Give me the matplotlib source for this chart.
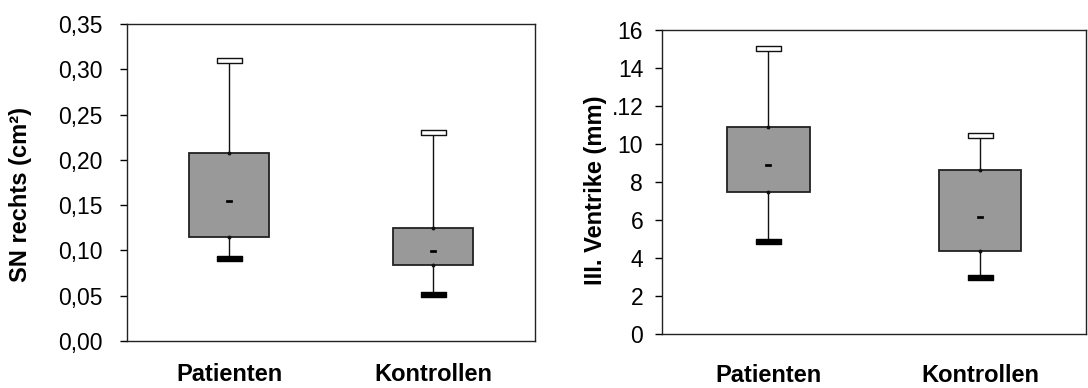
import numpy as np
import matplotlib
matplotlib.use("Agg")
import matplotlib.pyplot as plt
from matplotlib.path import Path

plt.rcParams['font.family'] = ['Liberation Sans', 'DejaVu Sans']

groups = ['Patienten', 'Kontrollen']

# linke Grafik: SN rechts (cm²)
sn_low = [0.0915, 0.0515]
sn_q1 = [0.1145, 0.084]
sn_mid = [0.154, 0.0997]
sn_q3 = [0.2075, 0.125]
sn_high = [0.311, 0.231]
sn_ticks = [0.0, 0.05, 0.10, 0.15, 0.20, 0.25, 0.30, 0.35]
sn_ticklabels = ['0,00', '0,05', '0,10', '0,15', '0,20', '0,25', '0,30', '0,35']

# rechte Grafik: III. Ventrikel (mm)
v_low = [4.88, 2.99]
v_q1 = [7.49, 4.39]
v_mid = [8.89, 6.16]
v_q3 = [10.89, 8.63]
v_high = [15.02, 10.48]
v_ticks = [0, 2, 4, 6, 8, 10, 12, 14, 16]
v_ticklabels = ['0', '2', '4', '6', '8', '10', '.12', '14', '16']

cap = Path([(-1, -0.2), (1, -0.2), (1, 0.2), (-1, 0.2), (-1, -0.2)], closed=True)
dash = Path([(-1, -0.5), (1, -0.5), (1, 0.5), (-1, 0.5), (-1, -0.5)], closed=True)

fig = plt.figure(figsize=(10.88, 3.88), dpi=100)
ax1 = fig.add_axes([0.117, 0.1219, 0.3747, 0.8155])
ax2 = fig.add_axes([0.6089, 0.1384, 0.3892, 0.785])


def draw(ax, low, q1, mid, q3, high):
    x = np.arange(1, len(groups) + 1)
    q1 = np.array(q1)
    q3 = np.array(q3)
    ax.vlines(x, q3, high, color='#111111', lw=1.0, zorder=2)
    ax.vlines(x, low, q1, color='#111111', lw=1.0, zorder=2)
    ax.bar(x, q3 - q1, bottom=q1, width=0.39, color='#999999',
           edgecolor='#222222', lw=1.3, zorder=3)
    ax.plot(x, q3, 'o', color='#111111', ms=1.8, zorder=4)
    ax.plot(x, q1, 'o', color='#111111', ms=1.8, zorder=4)
    ax.plot(x, high, ls='none', marker=cap, ms=18, mfc='white',
            mec='#111111', mew=1.0, zorder=4)
    ax.plot(x, low, ls='none', marker=cap, ms=18, mfc='black',
            mec='black', mew=1.0, zorder=4)
    ax.plot(x, mid, ls='none', marker=dash, ms=4.3, mfc='black',
            mec='black', mew=0.5, zorder=5)
    ax.set_xlim(0.5, 2.5)
    ax.set_xticks(x)
    ax.set_xticklabels(groups, fontsize=17, fontweight='bold')
    for s in ax.spines.values():
        s.set_linewidth(1.0)
        s.set_color('#222222')


draw(ax1, sn_low, sn_q1, sn_mid, sn_q3, sn_high)
ax1.set_ylim(0, 0.35)
ax1.set_yticks(sn_ticks)
ax1.set_yticklabels(sn_ticklabels, fontsize=16.5)
ax1.tick_params(axis='y', direction='out', length=5, width=1.0, pad=12.5)
ax1.tick_params(axis='x', length=0, pad=16)
ax1.set_ylabel('SN rechts (cm²)', fontsize=17, fontweight='bold')
ax1.yaxis.set_label_coords(-0.2345, 0.462)

draw(ax2, v_low, v_q1, v_mid, v_q3, v_high)
ax2.set_ylim(0, 16)
ax2.set_yticks(v_ticks)
ax2.set_yticklabels(v_ticklabels, fontsize=16.5)
ax2.tick_params(axis='y', direction='out', length=5, width=1.0, pad=8.9)
ax2.tick_params(axis='x', length=0, pad=21.5)
ax2.set_ylabel('III. Ventrike (mm)', fontsize=17, fontweight='bold')
ax2.yaxis.set_label_coords(-0.131, 0.472)

fig.savefig('out.png', dpi=100)
